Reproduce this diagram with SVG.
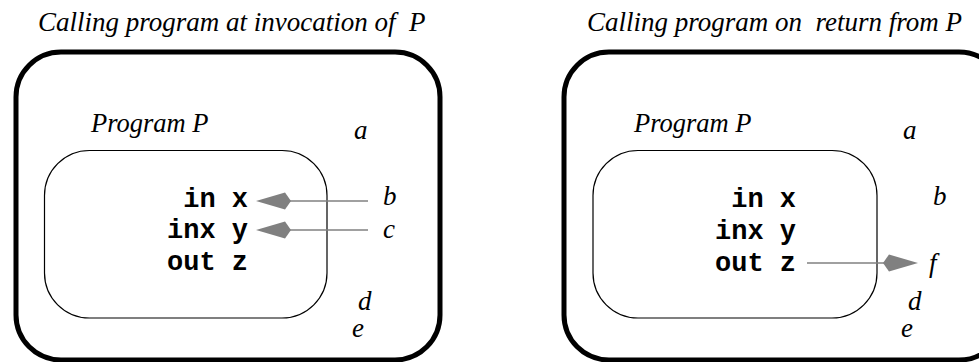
<svg xmlns="http://www.w3.org/2000/svg" width="979" height="362" viewBox="0 0 979 362">
<defs>
<style>
.outer{fill:none;stroke:#000;stroke-width:5}
.inner{fill:none;stroke:#000;stroke-width:1.2}
.ln{stroke:#808080;stroke-width:1.3;fill:none}
.hd{fill:#808080;stroke:none}
</style>
</defs>
<rect width="979" height="362" fill="#fff"/>
<g id="left-panel" style="font-family:'Liberation Serif',serif;font-style:italic;font-size:27px">
  <text x="38" y="31" xml:space="preserve">Calling program at invocation of  P</text>
  <g id="left-outer"><rect class="outer" x="16" y="52" width="424" height="308" rx="45"/></g>
  <g id="left-program">
    <rect class="inner" x="44.5" y="150.5" width="282.5" height="167.5" rx="45"/>
    <text x="91" y="132" style="font-size:26.5px">Program P</text>
    <g style="font-family:'Liberation Mono',monospace;font-style:normal;font-weight:bold;font-size:27px;text-anchor:end">
    <text x="248" y="207">in x</text>
    <text x="248" y="238">inx y</text>
    <text x="248" y="270">out z</text>
    </g>
  </g>
  <g id="left-vars">
    <text x="354" y="139">a</text>
    <text x="383" y="205">b</text>
    <text x="383" y="238">c</text>
    <text x="358" y="310">d</text>
    <text x="352" y="337">e</text>
  </g>
</g>
<g id="right-panel" style="font-family:'Liberation Serif',serif;font-style:italic;font-size:27px">
  <text x="587" y="31" xml:space="preserve">Calling program on  return from P</text>
  <g id="right-outer"><rect class="outer" x="564" y="52" width="440" height="308" rx="45"/></g>
  <g id="right-program">
    <rect class="inner" x="593" y="150.5" width="284" height="167.5" rx="45"/>
    <text x="634" y="132" style="font-size:26.5px">Program P</text>
    <g style="font-family:'Liberation Mono',monospace;font-style:normal;font-weight:bold;font-size:27px;text-anchor:end">
    <text x="796" y="207">in x</text>
    <text x="796" y="239">inx y</text>
    <text x="796" y="271">out z</text>
    </g>
  </g>
  <g id="right-vars">
    <text x="903" y="139">a</text>
    <text x="933" y="205">b</text>
    <text x="929" y="272">f</text>
    <text x="908" y="310">d</text>
    <text x="901" y="337">e</text>
  </g>
</g>
<g id="connectors">
  <line class="ln" x1="368" y1="201" x2="290" y2="201"/>
  <polygon class="hd" points="256,201 285,192.5 291,201 285,209.5"/>
  <line class="ln" x1="368" y1="230" x2="290" y2="230"/>
  <polygon class="hd" points="256,230 285,221.5 291,230 285,238.5"/>
  <line class="ln" x1="807" y1="263" x2="884" y2="263"/>
  <polygon class="hd" points="918,263 889,254.5 883,263 889,271.5"/>
</g>
</svg>
